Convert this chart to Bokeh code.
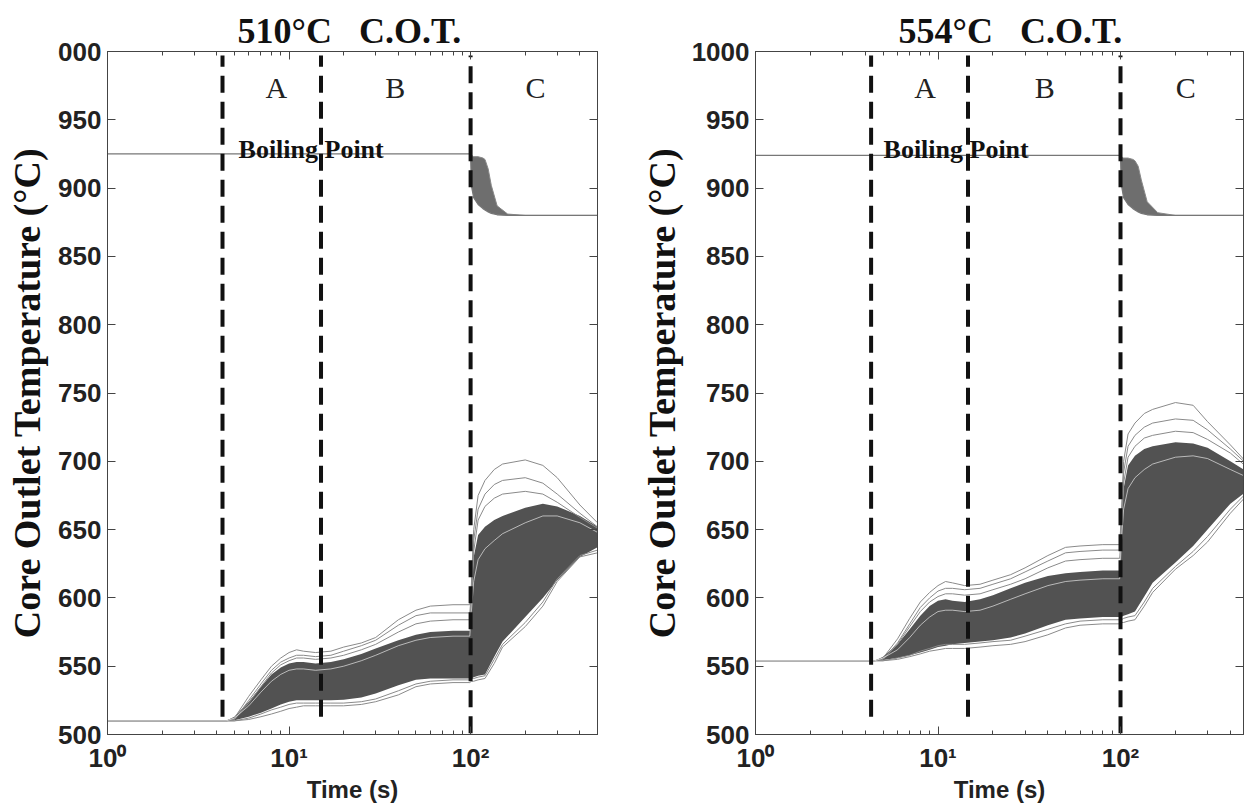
from bokeh.plotting import figure
from bokeh.layouts import row
from bokeh.models import Range1d, FixedTicker, LinearAxis, LogAxis
from bokeh.core.properties import value
from bokeh.embed import file_html
from bokeh.resources import INLINE

# ---------------- data ----------------
T = [1, 4.5, 5, 6, 7, 8, 9, 10, 11, 12, 14, 17, 20, 25, 30, 40, 50, 60, 80, 99,
     101, 104, 110, 120, 135, 150, 200, 250, 300, 400, 500]

# 510 C core outlet temperature panel
band_lo_510 = [510, 510, 510.5, 513, 516, 519, 522, 524, 525, 525, 525, 525, 525.5, 527, 530, 536, 540, 541, 541, 541,
               541, 542, 543, 544, 557, 568, 586, 600, 613, 630, 637]
band_hi_510 = [510, 510, 513, 524, 535, 544, 549, 552, 553, 553, 552, 553, 555, 559, 563, 569, 573, 575, 576, 576,
               600, 630, 646, 652, 657, 660, 666, 669, 667, 660, 652]
lines_510 = [
    [510, 510, 512, 528, 540, 550, 556, 560, 562, 561, 560, 561, 564, 567, 571, 584, 591, 594, 595, 595,
     610, 650, 675, 686, 694, 698, 701, 697, 688, 668, 655],
    [510, 510, 511, 525, 537, 547, 553, 556, 558, 558, 557, 558, 561, 565, 569, 580, 587, 589, 589, 589,
     604, 642, 665, 676, 683, 686, 688, 684, 676, 662, 652],
    [510, 510, 511, 523, 535, 545, 551, 554, 556, 556, 555, 556, 558, 562, 566, 575, 581, 583, 584, 584,
     598, 634, 657, 667, 673, 676, 678, 676, 670, 659, 651],
    [510, 510, 510, 511, 513, 515, 517, 519, 520, 521, 521, 521, 521, 522, 524, 529, 535, 537, 538, 538,
     539, 539, 540, 541, 552, 564, 579, 594, 612, 630, 633],
    [510, 510, 510, 512, 515, 518, 520, 522, 523, 523, 523, 523, 523, 524, 526, 532, 537, 539, 540, 540,
     541, 541, 542, 543, 555, 566, 582, 597, 614, 631, 635],
]
streak_510 = [510, 510, 512, 521, 531, 539, 544, 547, 548, 548, 547, 548, 550, 554, 558, 565, 569, 571, 572, 572,
              590, 612, 628, 636, 642, 647, 655, 660, 660, 655, 648]

# 554 C core outlet temperature panel
band_lo_554 = [554, 554, 554.5, 556, 558, 560, 562, 564, 565, 566, 567, 568, 569, 571, 574, 580, 584, 585, 586, 586,
               586, 587, 588, 590, 601, 611, 626, 638, 650, 669, 679]
band_hi_554 = [554, 554, 557, 566, 577, 587, 594, 598, 599, 598, 597, 599, 602, 607, 611, 616, 618, 619, 620, 620,
               650, 680, 697, 704, 709, 711, 714, 713, 710, 700, 692]
lines_554 = [
    [554, 554, 556, 570, 585, 597, 604, 609, 612, 611, 609, 610, 613, 617, 622, 631, 637, 638, 639, 639,
     660, 700, 720, 728, 735, 738, 743, 741, 729, 712, 698],
    [554, 554, 555, 567, 581, 593, 600, 605, 607, 607, 606, 607, 610, 614, 619, 627, 633, 634, 635, 635,
     654, 692, 711, 719, 725, 728, 731, 730, 723, 709, 697],
    [554, 554, 555, 566, 579, 590, 597, 601, 603, 603, 602, 603, 606, 610, 614, 622, 627, 628, 629, 629,
     646, 684, 703, 711, 717, 719, 722, 721, 716, 706, 695],
    [554, 554, 554, 555, 557, 559, 561, 562, 563, 563, 563, 564, 565, 566, 568, 573, 578, 580, 581, 581,
     582, 582, 583, 584, 594, 604, 621, 631, 641, 662, 676],
    [554, 554, 554, 556, 558, 561, 563, 565, 566, 566, 566, 567, 568, 569, 572, 577, 581, 583, 584, 584,
     584, 585, 586, 587, 597, 607, 623, 634, 645, 665, 678],
]
streak_554 = [554, 554, 556, 562, 571, 580, 586, 590, 591, 591, 590, 591, 594, 599, 603, 609, 612, 613, 614, 614,
              640, 665, 680, 688, 694, 698, 703, 704, 702, 694, 688]

# boiling point curves
bp_t = [1, 100]
bp_510 = [925, 925]
bp_554 = [924, 924]
fan_t = [100, 101, 104, 110, 117, 120, 125, 130, 140, 160, 200, 500]
fan_hi_510 = [925, 924, 923, 923, 922, 921, 914, 902, 887, 881, 880, 880]
fan_lo_510 = [925, 902, 893, 888, 885, 884, 882.5, 881.5, 880.5, 880, 880, 880]
fan_hi_554 = [924, 923, 922, 922, 921, 920, 916, 906, 890, 882, 880, 880]
fan_lo_554 = [924, 903, 893, 888, 885, 884, 882.5, 881.5, 880.5, 880, 880, 880]

# region dividers (time, s)
div_t_510 = [4.3, 15.0, 100]
div_t_554 = [4.3, 14.6, 100]
div_lo = [513, 513, 501]
div_hi = [997, 997, 997]

region_t = [8.5, 38.5, 228]
region_names = ["A", "B", "C"]
region_y = [974, 974, 974]

y_ticks = [500, 550, 600, 650, 700, 750, 800, 850, 900, 950, 1000]
x_ticks = [1, 10, 100]
x_minor = [2, 3, 4, 5, 6, 7, 8, 9, 20, 30, 40, 50, 60, 70, 80, 90, 200, 300, 400, 500]
x_labels = {1: "10\u2070", 10: "10\u00b9", 100: "10\u00b2"}

AX = "#444444"


def style_axis(ax, ticks, minor, labels=True):
    ax.ticker = FixedTicker(ticks=ticks, minor_ticks=minor)
    ax.major_tick_in = 8
    ax.major_tick_out = 0
    ax.minor_tick_in = 4
    ax.minor_tick_out = 0
    ax.axis_line_color = AX
    ax.major_tick_line_color = AX
    ax.minor_tick_line_color = AX
    if labels:
        ax.major_label_text_font = "Liberation Sans"
        ax.major_label_text_font_size = "26px"
        ax.major_label_text_font_style = "bold"
        ax.major_label_text_color = "#222222"
    else:
        ax.major_label_text_font_size = "1px"
        ax.major_label_text_alpha = 0
        ax.major_label_standoff = 0


def panel(title, width, x_end, bl, br, band_lo, band_hi, lines, streak, bp, fan_hi, fan_lo,
          div_t, y_over, title_offset, bp_text_t, ylab_standoff):
    p = figure(width=width, height=809, x_axis_type="log",
               x_range=Range1d(1, x_end), y_range=Range1d(500, 1000),
               output_backend="svg", toolbar_location=None,
               min_border_left=bl, min_border_right=br, min_border_top=51, min_border_bottom=75,
               title=title)
    p.title.text_font = "Liberation Serif"
    p.title.text_font_size = "36px"
    p.title.text_font_style = "bold"
    p.title.align = "left"
    p.title.offset = title_offset
    p.title.standoff = 2
    p.title.text_color = "#111111"
    p.xgrid.visible = False
    p.ygrid.visible = False
    p.outline_line_color = AX
    p.background_fill_color = "white"

    xa = p.xaxis[0]
    style_axis(xa, x_ticks, x_minor)
    xa.major_label_overrides = x_labels
    xa.major_label_standoff = 8
    xa.axis_label = "Time (s)"
    xa.axis_label_text_font = "Liberation Sans"
    xa.axis_label_text_font_size = "24px"
    xa.axis_label_text_font_style = "bold"
    xa.axis_label_text_color = "#222222"
    xa.axis_label_standoff = 0

    ya = p.yaxis[0]
    style_axis(ya, y_ticks, [])
    ya.major_label_overrides = y_over
    ya.major_label_standoff = 6
    ya.axis_label = "Core Outlet Temperature (\u00b0C)"
    ya.axis_label_text_font = "Liberation Serif"
    ya.axis_label_text_font_size = "38px"
    ya.axis_label_text_font_style = "bold"
    ya.axis_label_text_color = "#111111"
    ya.axis_label_standoff = ylab_standoff

    top = LogAxis()
    style_axis(top, x_ticks, x_minor, labels=False)
    p.add_layout(top, "above")
    right = LinearAxis()
    style_axis(right, y_ticks, [], labels=False)
    p.add_layout(right, "right")

    # ensemble of core outlet temperature traces
    p.varea(x=T, y1=band_lo, y2=band_hi, fill_color="#525252")
    for ln in lines:
        p.line(T, ln, line_color="#8a8a8a", line_width=1)
    p.line(T, streak, line_color="white", line_width=1, line_alpha=0.6)

    # boiling point
    p.line(bp_t, bp, line_color="#777777", line_width=1.3)
    p.varea(x=fan_t, y1=fan_lo, y2=fan_hi, fill_color="#6e6e6e")
    p.line(fan_t, fan_hi, line_color="#888888", line_width=1)
    p.line(fan_t, fan_lo, line_color="#777777", line_width=1.3)

    # dividers
    p.segment(x0=div_t, y0=div_lo, x1=div_t, y1=div_hi, line_color="#111111",
              line_width=4, line_dash="17 9")

    p.text(x=region_t, y=region_y, text=region_names, text_font=value("Liberation Serif"),
           text_font_size="30px", text_align="center", text_baseline="middle", text_color="#222222")
    p.text(x=[bp_text_t], y=[928], text=["Boiling Point"], text_font=value("Liberation Serif"),
           text_font_size="26px", text_font_style="bold", text_align="left",
           text_baseline="alphabetic", text_color="#111111")
    return p


p1 = panel("510\u00b0C\u00a0\u00a0\u00a0C.O.T.", 620, 500, 107, 23, band_lo_510, band_hi_510, lines_510,
           streak_510, bp_510, fan_hi_510, fan_lo_510, div_t_510, {1000: "000"}, 130, 5.27, 7)
p2 = panel("554\u00b0C\u00a0\u00a0\u00a0C.O.T.", 624, 472, 135, 1, band_lo_554, band_hi_554, lines_554,
           streak_554, bp_554, fan_hi_554, fan_lo_554, div_t_554, {}, 143, 5.03, 6)

layout = row(p1, p2)
open("out.html", "w").write(file_html(layout, INLINE))
